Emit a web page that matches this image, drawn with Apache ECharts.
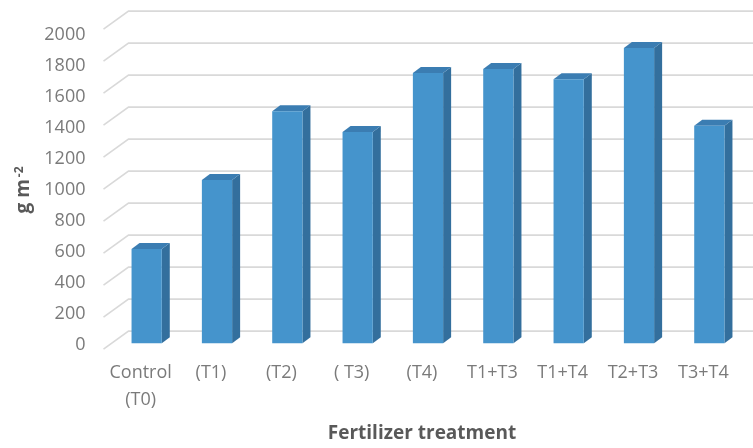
<!DOCTYPE html>
<html>
<head>
<meta charset="utf-8">
<script src="https://cdn.jsdelivr.net/npm/echarts@6/dist/echarts.min.js"></script>
<style>
  html, body { margin: 0; padding: 0; background: #ffffff; }
  #chart { width: 753px; height: 448px; }
</style>
</head>
<body>
<div id="chart"></div>
<script>
// Treatments and measured biomass (g m-2)
const categories = ['Control\n(T0)', '(T1)', '(T2)', '( T3)', '(T4)', 'T1+T3', 'T1+T4', 'T2+T3', 'T3+T4'];
const values = [590, 1020, 1450, 1320, 1690, 1715, 1650, 1845, 1360];
const yTicks = [0, 200, 400, 600, 800, 1000, 1200, 1400, 1600, 1800, 2000];

// Oblique projection of the 3-D box (pixels)
const FLOOR_FRONT = [-8, 5.8];   // bar front plane -> front edge of floor
const BACK_WALL = [17, -12.2];   // bar front plane -> back wall
const BAR_DEPTH = [8, -6];       // bar front face -> bar back face

const FRONT = '#4594cc', SIDE = '#336f9d', TOP = '#3b7db2';
const FONT = 'Open Sans';

const chart = echarts.init(document.getElementById('chart'), null, { renderer: 'canvas' });

function gridLineItem(params, api) {
  const v = api.value(1);
  const p = api.coord([0, v]);
  const band = api.size([1, 0])[0];
  const x0 = p[0] - band / 2;
  const pts = [
    [x0 + FLOOR_FRONT[0], p[1] + FLOOR_FRONT[1]],
    [x0 + BACK_WALL[0], p[1] + BACK_WALL[1]],
    [api.getWidth(), p[1] + BACK_WALL[1]]
  ];
  return {
    type: 'polyline',
    shape: { points: pts },
    style: { stroke: '#d9d9d9', lineWidth: 1.6, fill: null },
    silent: true
  };
}

function barItem(params, api) {
  const idx = api.value(0);
  const v = api.value(1);
  const top = api.coord([idx, v]);
  const base = api.coord([idx, 0]);
  const band = api.size([1, 0])[0];
  const w = band * 0.43;
  const l = top[0] - w / 2, r = top[0] + w / 2;
  const dx = BAR_DEPTH[0], dy = BAR_DEPTH[1];
  return {
    type: 'group',
    children: [
      { type: 'polygon', shape: { points: [[r, top[1]], [r + dx, top[1] + dy], [r + dx, base[1] + dy], [r, base[1]]] },
        style: { fill: SIDE } },
      { type: 'polygon', shape: { points: [[l, top[1]], [l + dx, top[1] + dy], [r + dx, top[1] + dy], [r, top[1]]] },
        style: { fill: TOP } },
      { type: 'rect', shape: { x: l, y: top[1], width: w, height: base[1] - top[1] },
        style: { fill: FRONT } }
    ]
  };
}

const option = {
  backgroundColor: '#ffffff',
  animation: false,
  textStyle: { fontFamily: FONT },
  grid: [
    { left: 111.5, top: 23.3, width: 633, height: 320 },   // bar front plane
    { left: 105.5, top: 35, width: 633, height: 320 }      // label row, aligned with the floor edge
  ],
  xAxis: [
    { type: 'category', gridIndex: 0, data: categories, show: false },
    {
      type: 'category', gridIndex: 1, data: categories,
      axisLine: { show: false }, axisTick: { show: false },
      axisLabel: { color: '#7a7a7a', fontSize: 18, lineHeight: 27, margin: 14, fontFamily: FONT, interval: 0 },
      name: 'Fertilizer treatment', nameLocation: 'middle', nameGap: 79,
      nameTextStyle: { color: '#595959', fontSize: 19, fontWeight: 'bold', fontFamily: FONT }
    }
  ],
  yAxis: [
    { type: 'value', gridIndex: 0, min: 0, max: 2000, interval: 200, show: false },
    {
      type: 'value', gridIndex: 1, min: 0, max: 2000, interval: 200,
      axisLine: { show: false }, axisTick: { show: false }, splitLine: { show: false },
      axisLabel: { color: '#7a7a7a', fontSize: 18, margin: 20, fontFamily: FONT, formatter: v => String(v) },
      name: '{a|g m}{s|-2}', nameLocation: 'middle', nameRotate: 90, nameGap: 64,
      nameTextStyle: {
        rich: {
          a: { color: '#595959', fontSize: 19, fontWeight: 'bold', fontFamily: FONT },
          s: { color: '#595959', fontSize: 12, fontWeight: 'bold', fontFamily: FONT, verticalAlign: 'top', padding: [0, 0, 9, 2] }
        }
      }
    }
  ],
  series: [
    {
      type: 'custom', xAxisIndex: 0, yAxisIndex: 0, z: 1, silent: true,
      renderItem: gridLineItem,
      data: yTicks.map(v => [0, v])
    },
    {
      type: 'custom', xAxisIndex: 0, yAxisIndex: 0, z: 2,
      renderItem: barItem,
      data: values.map((v, i) => [i, v])
    }
  ]
};

chart.setOption(option);
</script>
</body>
</html>
